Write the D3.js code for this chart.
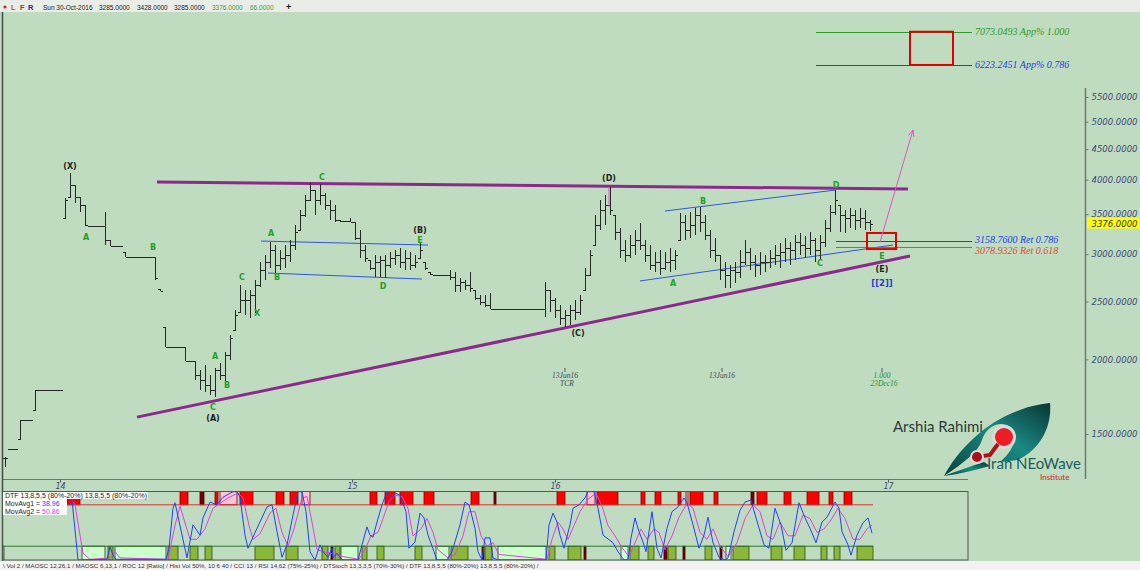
<!DOCTYPE html>
<html><head><meta charset="utf-8">
<script src="https://cdn.jsdelivr.net/npm/d3@7"></script>
<style>
html,body{margin:0;padding:0;background:#c0dcc0;}
svg{display:block;}
</style></head><body>
<svg id="c" width="1140" height="570"></svg>
<script>
// ---------- DATA ----------
const barHigh=[1373,1415,1415,1583,1583,1583,1777,1777,1777,1777,1777,1777,
3727,4102,3918,3741,3627,3344,3344,3344,3530,3168,3096,3096,3025,2967,2967,2967,2967,2967,
2967,2624,2266,2097,2097,2097,2097,1987,1987,1919,1956,1883,1934,1972,2057,2197,2419,2664,
2613,2613,2716,2911,2990,3144,3108,3049,3108,3168,3357,3557,3770,3948,3843,3933,3799,3697,
3627,3422,3409,3449,3396,3293,3108,2933,2990,2979,2990,3025,3049,3072,3049,3025,2990,3132,
2911,2801,2768,2768,2768,2822,2801,2737,2716,2801,2613,2563,2563,2583,
2428,2428,2428,2428,2428,2428,2428,2428,2428,2428,
2695,2613,2533,2466,2419,2466,2514,2563,2844,3049,3489,3697,3770,3888,3489,3319,3168,3230,
3293,3383,3168,3108,3025,3049,3025,3072,3049,3516,3489,3530,3585,3599,3489,3293,3193,2990,
2911,2877,2911,3049,3168,3072,2990,3025,2990,3049,3108,3132,3193,3144,3230,3256,3218,3268,
3193,3230,3422,3627,3843,3627,3557,3585,3557,3585,3557,3428];
const barLow=[1322,1415,1415,1471,1583,1583,1645,1777,1777,1777,1777,1777,
3449,3741,3655,3530,3344,3344,3344,3344,3108,3096,3096,3096,2967,2967,2967,2967,2967,2967,
2716,2603,2097,2097,2097,2097,1987,1987,1847,1777,1763,1743,1730,1847,1811,1995,2239,2400,
2373,2346,2391,2644,2716,2844,2768,2822,2844,2911,3049,3293,3462,3697,3489,3627,3557,3422,
3396,3396,3396,3396,3168,2956,2911,2822,2747,2747,2737,2844,2877,2844,2822,2822,2844,2956,
2822,2768,2768,2768,2768,2716,2593,2593,2613,2593,2514,2466,2447,2428,
2428,2428,2428,2428,2428,2428,2428,2428,2428,2428,
2355,2400,2346,2283,2266,2283,2328,2373,2613,2768,3108,3293,3357,3489,3168,2956,2911,2956,
2990,3049,2911,2822,2801,2768,2822,2801,2822,3168,3168,3193,3230,3268,3168,2956,2911,2716,
2634,2634,2685,2737,2877,2822,2747,2768,2801,2844,2877,2844,2911,2877,2933,2990,2956,2990,
2911,2933,3084,3268,3489,3268,3256,3319,3293,3319,3293,3285];
const barClose=[1368,1415,1415,1583,1583,1583,1777,1777,1777,1777,1777,1777,
3697,3918,3741,3627,3357,3344,3344,3344,3168,3096,3096,3096,2967,2967,2967,2967,2967,2967,
2737,2603,2097,2097,2097,2097,1987,1987,1883,1847,1811,1777,1919,1883,2033,2172,2373,2514,
2514,2563,2664,2822,2911,3049,2877,2956,2990,3108,3268,3489,3697,3843,3697,3770,3627,3557,
3422,3409,3409,3396,3193,3049,2956,2844,2911,2933,2877,2956,2990,2911,2956,2877,2911,3049,
2844,2779,2768,2768,2768,2747,2664,2695,2664,2634,2533,2495,2466,2428,
2428,2428,2428,2428,2428,2428,2428,2428,2428,2428,
2613,2514,2419,2346,2373,2419,2400,2514,2768,2990,3357,3557,3627,3557,3268,3049,2990,3108,
3168,3108,2990,2877,2911,2844,2911,2933,2990,3396,3293,3357,3489,3396,3230,3049,2990,2822,
2768,2822,2801,2911,3025,2911,2877,2911,2911,2956,2990,3025,3072,3049,3144,3108,3072,3168,
3049,3144,3319,3530,3697,3489,3449,3489,3422,3449,3396,3376];

const priceTicks=[1500,2000,2500,3000,3500,4000,4500,5000,5500];
const lastClose=3376;
const yearLabels=["14","15","16","17"];
const yearAt=[11,69.4,110,176.6];

// trend lines [index, price]
const purpleLines=[[[30.4,3963],[180.6,3858]],[[26.4,1601],[181,2979]]];
const blueChannels=[[[51.2,3156],[84.6,3108]],[[52.6,2790],[83.4,2726]],
                    [[132,3544],[166.2,3843]],[[127,2706],[177.6,3108]]];
const fibValues=[7073.0493,6223.2451,3158.7600,3078.9326];
const fibNames=["App% 1.000","App% 0.786","Ret 0.786","Ret 0.618"];
const fibStart=[162.2,162.2,166.2,166.2];
const fibEnd=193.4;
const targetBoxes=[[181,189.6,7073.0493,6223.2451],[172.4,178.2,3256,3060]];
const arrowLine=[[175,3144],[181.6,4843]];

const waveLabels=[["A",16.2,3205],["B",29.6,3084],["A",42,2025],["B",44.4,1811],["C",41.6,1664],
["C",47.4,2747],["X",50.4,2391],["A",53.2,3256],["B",54.4,2747],["C",63.4,4040],["E",83,3168],
["D",75.6,2654],["A",133.6,2685],["B",139.6,3683],["C",163,2900],["D",166.2,3918],["E",175.4,2979]];
const degreeLabels=[["(X)",13,4214],["(A)",41.6,1595],["(B)",83,3293],["(C)",114.6,2214],
["(D)",120.8,4025],["(E)",175.4,2833]];
const cycleLabels=[["[[2]]",175.4,2685]];
const timeCycles=[[112,"13Jun16","TCR"],[143.4,"13Jun16",""],[175.4,"1.000","23Dec16"]];

// DTF oscillator  [index, value]
const dtfFast=[[12.6,91],[13.4,87],[14.6,0],[20.4,1],[21,19],[21.6,7],[22.2,1],[32.2,1],[32.8,17],
[33.6,75],[34,83],[36.4,3],[37.6,51],[39,36],[39.6,61],[41,84],[42.4,80],[43.6,91],[45.6,99],
[46.4,99],[47,91],[48,36],[48.6,17],[50.4,46],[52.4,77],[53.4,80],[54.4,41],[55.4,4],[56.4,22],
[57.6,65],[58.6,99],[59.4,99],[60.2,70],[61,12],[62,0],[63,22],[63.6,12],[64.6,4],[65.4,17],
[65.6,3],[66.4,10],[67,4],[67.6,0],[70.6,0],[71.4,22],[72.4,48],[73,36],[73.6,33],[74.4,55],
[75.4,80],[76.4,99],[77.4,90],[78,97],[79,94],[80.2,70],[80.8,17],[82,26],[83,68],[83.8,61],
[84.6,36],[85.8,12],[86.4,0],[88.4,0],[89.4,12],[91,51],[92,84],[92.8,80],[94,46],[94.6,12],
[95.4,0],[96,32],[97,32],[97.6,3],[98.6,0],[108.2,0],[108.8,51],[109.6,68],[110.4,55],[111,36],
[111.8,17],[113,51],[113.6,75],[114.8,80],[116,90],[116.6,99],[117.8,99],[118.6,75],[119.6,36],
[121.6,25],[122.6,12],[123.8,0],[124.6,0],[125.2,32],[126,61],[126.8,41],[127.6,26],[128.2,12],
[129.4,70],[130.4,17],[131.2,3],[132.4,46],[133.4,70],[134.6,77],[135.8,90],[136.4,83],[137.6,51],
[138.8,17],[139.8,36],[140.6,62],[141.6,25],[142.8,4],[144,0],[144.6,3],[145.8,41],[147,72],
[148,84],[149.2,87],[150.2,61],[151.8,22],[152.8,17],[154,75],[155.2,51],[156.2,14],[157.4,25],
[158.8,83],[160,61],[161,46],[162.2,25],[163.4,55],[164.4,62],[166,84],[166.8,75],[167.4,41],
[168.6,22],[169.2,7],[170.4,36],[171.6,54],[172.6,61],[173.4,39]];
const dtfSlow=[[12.6,95],[14,80],[15.6,10],[17,1],[21,3],[22,12],[23,3],[32.6,1],[34,50],[35,78],
[37,30],[38.4,30],[40,45],[41.6,75],[43,82],[44.6,90],[46.6,97],[47.6,90],[48.8,50],[49.6,30],
[51,38],[53,68],[54.2,75],[55.4,40],[56.6,20],[57.8,45],[59.4,90],[60.4,92],[61.4,55],[62.4,15],
[63.6,12],[65,10],[66.4,8],[67.6,5],[70.8,1],[72,15],[73.2,35],[74.6,40],[75.6,60],[76.8,85],
[78,94],[79.4,92],[80.6,75],[81.6,35],[83.2,45],[84.4,60],[85.6,40],[86.6,15],[88.6,3],[90,8],
[91.6,35],[92.8,70],[94,70],[95.2,35],[96.4,20],[97.6,25],[98.8,8],[108.4,1],[109.4,30],
[110.6,55],[111.6,45],[112.6,30],[113.8,50],[115,70],[116.6,88],[118.2,97],[119.4,78],[120.6,50],
[122,35],[123.4,18],[124.8,5],[126,25],[127.2,45],[128.4,30],[129.8,45],[130.8,40],[132,15],
[133.4,35],[134.8,62],[136.4,82],[137.6,75],[139,40],[140.4,30],[141.6,45],[143,20],[144.6,5],
[146.4,25],[148,60],[149.6,80],[151,70],[152.4,35],[153.6,30],[155,55],[156.6,35],[158,35],
[159.6,65],[161,60],[162.4,40],[163.8,45],[165.2,58],[166.6,75],[168,60],[169.6,30],[171,30],
[172.4,45],[173.4,50.86]];
const dtfLast=[38.96,50.86];
// zones [startIndex, endIndex, kind]
const overboughtZones=[[12.4,15,"r"],[35,36.6,"r"],[39,39.8,"d"],[42,42.6,"r"],[43,46.4,"p"],
[47,49.6,"r"],[54.2,55.8,"r"],[57,58.6,"r"],[59.4,61,"p"],[73,74.4,"r"],[76,78,"r"],[79,81.6,"r"],
[83.8,85.8,"r"],[93.2,94.8,"r"],[97.8,98.2,"d"],[110.4,112,"r"],[116.4,118,"p"],[118.4,122.6,"r"],
[127.2,128,"r"],[130,131.2,"r"],[134.6,135.2,"r"],[136.2,136.6,"p"],[137,139.6,"r"],[141.8,142.6,"r"],
[149.2,149.8,"d"],[150.4,152.4,"r"],[155.8,157.2,"r"],[160.4,162.8,"r"],[164.8,165.6,"r"],[167.8,169.4,"r"]];
const oversoldZones=[[-0.6,-0.2,"g"],[15.4,20,"l"],[20.6,21.6,"g"],[22,32.2,"l"],[32.6,34.6,"g"],
[37,38.6,"g"],[40,41.4,"g"],[50,53.8,"g"],[56.2,58.6,"g"],[63.4,64.6,"g"],[65.2,65.6,"d"],[66,67,"g"],
[67.2,70.6,"l"],[71.4,72.4,"g"],[74.4,75.8,"g"],[82,83.4,"g"],[86.2,88.8,"l"],[89.2,92.6,"g"],
[95.4,95.8,"d"],[96,97.4,"g"],[98.6,108.2,"l"],[108.8,110,"g"],[112.6,115.2,"g"],[115.8,116.2,"d"],
[123.2,124.6,"l"],[125,126.8,"g"],[128.6,129.8,"g"],[131.8,132.4,"d"],[132.6,134.2,"g"],[135.6,136,"d"],
[140,141.4,"g"],[143,143.4,"d"],[144.2,145.2,"l"],[145.6,148.8,"g"],[153.2,155.4,"g"],[157.8,160,"g"],
[163.2,164.4,"g"],[165.8,167,"g"],[170.4,173.6,"g"]];

// ---------- DRAW ----------
const svg=d3.select("#c");
const W=1140,H=570;
svg.append("rect").attr("width",W).attr("height",H).attr("fill","#c0dcc0");
svg.append("rect").attr("width",W).attr("height",12).attr("fill","#e8ede7");

const x=d3.scaleLinear().domain([0,barHigh.length-1]).range([5,870]);
const y=d3.scaleLog().domain([1500,5500]).range([434,97]);
const yi=d3.scaleLinear().domain([0,100]).range([560,491]);

const defs=svg.append("defs");
defs.append("clipPath").attr("id","clipMain").append("rect").attr("x",3).attr("y",12).attr("width",1082).attr("height",467);
defs.append("clipPath").attr("id","clipInd").append("rect").attr("x",3).attr("y",491).attr("width",965).attr("height",69);

const main=svg.append("g").attr("clip-path","url(#clipMain)");

// purple triangle lines
main.selectAll(".pl").data(purpleLines).join("line")
  .attr("x1",d=>x(d[0][0])).attr("y1",d=>y(d[0][1])).attr("x2",d=>x(d[1][0])).attr("y2",d=>y(d[1][1]))
  .attr("stroke","#8c2a8c").attr("stroke-width",3);
// blue channels
main.selectAll(".bc").data(blueChannels).join("line")
  .attr("x1",d=>x(d[0][0])).attr("y1",d=>y(d[0][1])).attr("x2",d=>x(d[1][0])).attr("y2",d=>y(d[1][1]))
  .attr("stroke","#3355e0").attr("stroke-width",1);

// fib levels
const fibColor=["#2e9a2e","#2040e0","#2040e0","#e04a30"];
const fibDy=["0.35em","0.35em","0.2em","0.62em"];
fibValues.forEach((v,k)=>{
  main.append("line").attr("x1",x(fibStart[k])).attr("x2",x(fibEnd)).attr("y1",Math.round(y(v))+0.5).attr("y2",Math.round(y(v))+0.5)
    .attr("stroke",fibColor[k]).attr("stroke-width",1);
  main.append("text").attr("x",x(fibEnd)+3).attr("y",y(v)).attr("dy",fibDy[k])
    .attr("font-family","Liberation Serif").attr("font-style","italic").attr("font-size",10)
    .attr("fill",fibColor[k]).text(v.toFixed(4)+" "+fibNames[k]);
});

// bars
const bars=barHigh.map((h,i)=>{
  const l=barLow[i],c=barClose[i];
  let o=i?barClose[i-1]:c; o=Math.max(l,Math.min(h,o));
  return {i,h,l,c,o};
});
main.append("path").attr("fill","none").attr("stroke","#262626").attr("stroke-width",1)
  .attr("shape-rendering","crispEdges")
  .attr("d",bars.map(b=>{
    const bx=Math.round(x(b.i))+0.5;
    let s="";
    if(b.h!==b.l) s+=`M${bx},${y(b.h)}V${y(b.l)}`;
    s+=`M${bx-2.5},${Math.round(y(b.o))+0.5}H${bx}M${bx},${Math.round(y(b.c))+0.5}H${bx+2.5}`;
    return s;
  }).join(""));

// pink marker at (D)
main.append("line").attr("x1",x(120.8)).attr("x2",x(120.8)).attr("y1",y(3888)).attr("y2",y(3599))
  .attr("stroke","#e050d0").attr("stroke-width",1);

// target boxes
main.selectAll(".tb").data(targetBoxes).join("rect")
  .attr("x",d=>x(d[0])).attr("y",d=>y(d[2])).attr("width",d=>x(d[1])-x(d[0])).attr("height",d=>y(d[3])-y(d[2]))
  .attr("fill","none").attr("stroke","#e00000").attr("stroke-width",2);

// arrow
{
  const x1=x(arrowLine[0][0]),y1=y(arrowLine[0][1]),x2=x(arrowLine[1][0]),y2=y(arrowLine[1][1]);
  main.append("line").attr("x1",x1).attr("y1",y1).attr("x2",x2).attr("y2",y2).attr("stroke","#e050d0").attr("stroke-width",1);
  const a=Math.atan2(y2-y1,x2-x1),L=7;
  main.append("path").attr("fill","none").attr("stroke","#e050d0").attr("stroke-width",1)
    .attr("d",`M${x2-L*Math.cos(a-0.4)},${y2-L*Math.sin(a-0.4)}L${x2},${y2}L${x2-L*Math.cos(a+0.4)},${y2-L*Math.sin(a+0.4)}`);
}

// labels
main.selectAll(".wl").data(waveLabels).join("text")
  .attr("x",d=>x(d[1])).attr("y",d=>y(d[2])).attr("dy","0.35em").attr("text-anchor","middle")
  .attr("font-family","DejaVu Sans").attr("font-weight","bold").attr("font-size",8).attr("fill","#20a020").text(d=>d[0]);
main.selectAll(".dl").data(degreeLabels).join("text")
  .attr("x",d=>x(d[1])).attr("y",d=>y(d[2])).attr("dy","0.35em").attr("text-anchor","middle")
  .attr("font-family","DejaVu Sans").attr("font-weight","bold").attr("font-size",8).attr("fill","#222").text(d=>d[0]);
main.selectAll(".cl").data(cycleLabels).join("text")
  .attr("x",d=>x(d[1])).attr("y",d=>y(d[2])).attr("dy","0.35em").attr("text-anchor","middle")
  .attr("font-family","DejaVu Sans").attr("font-weight","bold").attr("font-size",8.5).attr("fill","#2a3ad0").text(d=>d[0]);

// time cycle markers
timeCycles.forEach(t=>{
  const tx=x(t[0]);
  main.append("line").attr("x1",tx).attr("x2",tx).attr("y1",368).attr("y2",372).attr("stroke","#556").attr("stroke-width",1);
  main.append("text").attr("x",tx).attr("y",378).attr("text-anchor","middle").attr("font-family","Liberation Serif")
    .attr("font-style","italic").attr("font-size",7.5).attr("fill",t[0]>170?"#2e8a2e":"#3a4a5a").text(t[1]);
  if(t[2]) main.append("text").attr("x",tx+2).attr("y",386).attr("text-anchor","middle").attr("font-family","Liberation Serif")
    .attr("font-style","italic").attr("font-size",7.5).attr("fill",t[0]>170?"#2e8a2e":"#3a4a5a").text(t[2]);
});

// ---------- LOGO ----------
const logo=svg.append("g");
const grad=defs.append("linearGradient").attr("id","tealG").attr("x1","0").attr("y1","1").attr("x2","1").attr("y2","0");
grad.append("stop").attr("offset","0").attr("stop-color","#0a3f3d");
grad.append("stop").attr("offset","0.55").attr("stop-color","#1a8a84");
grad.append("stop").attr("offset","1").attr("stop-color","#083533");
logo.append("path").attr("fill","url(#tealG)")
  .attr("d","M944,476 C958,450 985,422 1020,410 C1030,406 1040,404 1050,403 C1052,425 1042,448 1018,460 L1000,462 C1012,452 1018,440 1012,428 C1000,418 985,428 982,440 C978,452 965,462 944,476 Z");
logo.append("path").attr("fill","url(#tealG)")
  .attr("d","M944,476 C960,470 972,466 984,462 L990,466 C975,470 960,474 944,476 Z");
logo.append("circle").attr("cx",1004).attr("cy",437).attr("r",12).attr("fill","#d8dcd8");
logo.append("path").attr("d","M977,457 L990,455 L998,444").attr("stroke","#b0101a").attr("stroke-width",4).attr("fill","none");
logo.append("circle").attr("cx",1004).attr("cy",437).attr("r",9).attr("fill","#ee1c25");
logo.append("circle").attr("cx",977).attr("cy",457).attr("r",7).attr("fill","#d8dcd8");
logo.append("circle").attr("cx",977).attr("cy",457).attr("r",5).attr("fill","#a8101a");
logo.append("text").attr("x",893).attr("y",432).attr("font-family","Lato").attr("font-size",15).attr("fill","#2c3a3a").text("Arshia Rahimi");
logo.append("text").attr("x",987).attr("y",469).attr("font-family","Lato").attr("font-size",15).attr("fill","#1d5b5b").text("Iran NEoWave");
logo.append("text").attr("x",1040).attr("y",480).attr("font-family","Lato").attr("font-size",8).attr("fill","#d02030").text("Institute");

// ---------- AXES ----------
// right price axis
svg.append("line").attr("x1",1085.5).attr("x2",1085.5).attr("y1",88).attr("y2",479).attr("stroke","#6b7b6b").attr("stroke-width",1.5);
const ra=svg.append("g").attr("transform","translate(1085.5,0)")
  .call(d3.axisRight(y).tickValues(priceTicks).tickFormat(d3.format(".4f")).tickSize(3).tickPadding(3));
ra.select(".domain").remove();
ra.selectAll("line").attr("stroke","#6b7b6b");
ra.selectAll("text").attr("font-family","DejaVu Sans").attr("font-style","italic").attr("font-size",8.5).attr("fill","#3c4a78");
svg.append("rect").attr("x",1087).attr("y",y(lastClose)-6).attr("width",53).attr("height",11).attr("fill","#ffff00");
svg.append("text").attr("x",1091.5).attr("y",y(lastClose)).attr("dy","0.35em").attr("font-family","DejaVu Sans")
  .attr("font-style","italic").attr("font-size",8.5).attr("fill","#333").text(d3.format(".4f")(lastClose));

// bottom year axis
svg.append("line").attr("x1",2).attr("x2",968).attr("y1",479.5).attr("y2",479.5).attr("stroke","#6b7b6b");
const xa=svg.append("g").attr("transform","translate(0,479.5)")
  .call(d3.axisBottom(x).tickValues(yearAt).tickFormat((d,k)=>yearLabels[k]).tickSize(3).tickPadding(1));
xa.select(".domain").remove();
xa.selectAll("line").attr("stroke","#556");
xa.selectAll("text").attr("font-family","DejaVu Sans").attr("font-style","italic").attr("font-size",8).attr("fill","#3c4a78");

// left border
svg.append("line").attr("x1",2.5).attr("x2",2.5).attr("y1",12).attr("y2",561).attr("stroke","#4a4a4a").attr("stroke-width",1.5);

// ---------- INDICATOR PANEL ----------
const ind=svg.append("g").attr("clip-path","url(#clipInd)");
const zoneFill={r:"#ff0000",p:"#ffc4d0",d:"#7a0000",g:"#8cb83a",l:"#ccffcc"};
const zoneStroke={r:"#7a0000",p:"#5a0000",d:"#3a0000",g:"#2f4a10",l:"#2a3a2a"};
ind.selectAll(".ob").data(overboughtZones).join("rect")
  .attr("x",d=>x(d[0])).attr("width",d=>Math.max(1,x(d[1])-x(d[0]))).attr("y",yi(100)).attr("height",yi(80)-yi(100))
  .attr("fill",d=>zoneFill[d[2]]).attr("stroke",d=>zoneStroke[d[2]]).attr("stroke-width",0.8);
ind.selectAll(".os").data(oversoldZones).join("rect")
  .attr("x",d=>x(d[0])).attr("width",d=>Math.max(1,x(d[1])-x(d[0]))).attr("y",yi(20)).attr("height",yi(0)-yi(20))
  .attr("fill",d=>zoneFill[d[2]]).attr("stroke",d=>zoneStroke[d[2]]).attr("stroke-width",0.8);
ind.append("line").attr("x1",3).attr("x2",x(173.6)).attr("y1",yi(80)).attr("y2",yi(80)).attr("stroke","#e03030");
ind.append("line").attr("x1",3).attr("x2",x(173.6)).attr("y1",yi(20)).attr("y2",yi(20)).attr("stroke","#2a7a2a");
const ln=d3.line().x(d=>x(d[0])).y(d=>yi(d[1]));
ind.append("path").attr("d",ln(dtfSlow)).attr("fill","none").attr("stroke","#e040e0").attr("stroke-width",1);
ind.append("path").attr("d",ln(dtfFast)).attr("fill","none").attr("stroke","#2040ff").attr("stroke-width",1);

// legend
svg.append("rect").attr("x",3).attr("y",492).attr("width",145).attr("height",7).attr("fill","#fff");
svg.append("rect").attr("x",3).attr("y",499).attr("width",64).attr("height",16).attr("fill","#fff");
const lf="Liberation Sans";
svg.append("text").attr("x",5).attr("y",498).attr("font-family",lf).attr("font-size",7).attr("fill","#222")
  .text("DTF 13,8,5,5 (80%-20%) 13,8,5,5 (80%-20%)");
const t1=svg.append("text").attr("x",5).attr("y",506).attr("font-family",lf).attr("font-size",7).attr("fill","#222");
t1.append("tspan").text("MovAvg1 = ");t1.append("tspan").attr("fill","#2040ff").text(dtfLast[0].toFixed(2));
const t2=svg.append("text").attr("x",5).attr("y",514).attr("font-family",lf).attr("font-size",7).attr("fill","#222");
t2.append("tspan").text("MovAvg2 = ");t2.append("tspan").attr("fill","#e040e0").text(dtfLast[1].toFixed(2));

svg.append("rect").attr("x",2.5).attr("y",491.5).attr("width",965.5).attr("height",68.5).attr("fill","none").attr("stroke","#555").attr("stroke-width",1);

// status bar
svg.append("rect").attr("x",0).attr("y",561).attr("width",W).attr("height",9).attr("fill","#f2f2f2");
svg.append("text").attr("x",3).attr("y",568).attr("font-family",lf).attr("font-size",6.2).attr("fill","#333")
  .text("\\ Vol 2 / MAOSC 12,26,1 / MAOSC 6,13,1 / ROC 12 [Ratio] / Hist Vol 50%, 10 6 40 / CCI 13 / RSI 14,62 (75%-25%) / DTStoch 13,3,3,5 (70%-30%) / DTF 13,8,5,5 (80%-20%) 13,8,5,5 (80%-20%) /");

// header
const hd=svg.append("g").attr("font-family",lf).attr("font-size",6.5);
hd.append("circle").attr("cx",5).attr("cy",7).attr("r",1.6).attr("fill","#e02020");
hd.append("text").attr("x",11).attr("y",10).attr("fill","#a07000").attr("font-weight","bold").attr("font-size",7.5).text("L");
hd.append("text").attr("x",20).attr("y",10).attr("fill","#d02020").attr("font-weight","bold").attr("font-size",7.5).text("F");
hd.append("text").attr("x",28).attr("y",10).attr("fill","#2020c0").attr("font-weight","bold").attr("font-size",7.5).text("R");
const hv=[["Sun 30-Oct-2016",43,"#222"],["3285.0000",99,"#222"],["3428.0000",137,"#222"],["3285.0000",174,"#222"],
          ["3376.0000",212,"#3a9a3a"],["66.0000",250,"#3a9a3a"]];
hv.forEach(h=>hd.append("text").attr("x",h[1]).attr("y",10).attr("fill",h[2]).text(h[0]));
hd.append("text").attr("x",286).attr("y",10).attr("fill","#111").attr("font-weight","bold").attr("font-size",9).text("+");
</script>
</body></html>
